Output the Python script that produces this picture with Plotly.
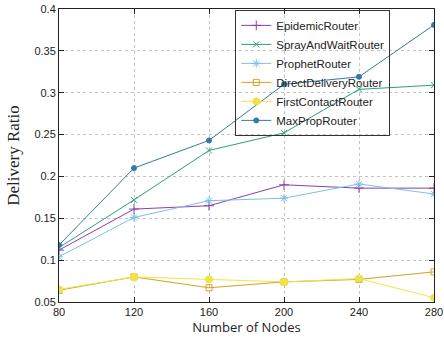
import plotly.graph_objects as go

nodes = [80, 120, 160, 200, 240, 280]
epidemic = [0.112, 0.161, 0.165, 0.190, 0.186, 0.186]
spray = [0.115, 0.172, 0.231, 0.252, 0.304, 0.309]
prophet = [0.104, 0.151, 0.171, 0.174, 0.191, 0.179]
direct = [0.064, 0.080, 0.067, 0.074, 0.077, 0.086]
first = [0.065, 0.080, 0.077, 0.074, 0.078, 0.055]
maxprop = [0.118, 0.210, 0.243, 0.310, 0.319, 0.381]

series = [
    ("EpidemicRouter", epidemic, "#8a3fa8", "cross-thin-open", 7),
    ("SprayAndWaitRouter", spray, "#2e9e7e", "x-thin-open", 6),
    ("ProphetRouter", prophet, "#7cc0e6", "asterisk-open", 7),
    ("DirectDeliveryRouter", direct, "#d4a020", "square-open", 6),
    ("FirstContactRouter", first, "#f0e442", "circle", 7),
    ("MaxPropRouter", maxprop, "#2f7aa8", "circle-dot", 5),
]

fig = go.Figure()
for name, vals, color, sym, size in series:
    fig.add_trace(go.Scatter(
        x=nodes, y=vals, name=name, mode="lines+markers",
        line=dict(color=color, width=1),
        marker=dict(symbol=sym, size=size, color=color, line=dict(color=color, width=1)),
    ))

axis_common = dict(
    showline=True, linecolor="#222", linewidth=1, mirror="ticks",
    ticks="inside", ticklen=5, tickcolor="#222",
    showgrid=True, gridcolor="#c4c4c4", griddash="dot", gridwidth=1,
    zeroline=False, automargin=False, ticklabeloverflow="allow",
    tickfont=dict(family="Liberation Sans, Arial", size=11, color="#222"),
)

fig.update_layout(
    width=444, height=345,
    margin=dict(l=59, r=10, t=9, b=43),
    plot_bgcolor="white", paper_bgcolor="white",
    xaxis=dict(range=[80, 280], tickvals=nodes, **axis_common,
               title=dict(text="Number of Nodes", font=dict(family="Open Sans, DejaVu Sans", size=13, color="#222"), standoff=3)),
    yaxis=dict(range=[0.05, 0.4], dtick=0.05, tickformat="~g", **axis_common,
               title=dict(text="Delivery Ratio", font=dict(family="Liberation Serif, Times New Roman", size=17, color="#222"), standoff=10)),
    legend=dict(x=0.47, y=0.997, xanchor="left", yanchor="top",
                bgcolor="rgba(255,255,255,0)", bordercolor="#333", borderwidth=1,
                font=dict(family="Liberation Sans, Arial", size=11.5, color="#222"),
                tracegroupgap=0, itemwidth=30),
    showlegend=True,
)

fig.write_html("out.html", config={"displayModeBar": False},
               post_script="document.body.style.margin='0';")
